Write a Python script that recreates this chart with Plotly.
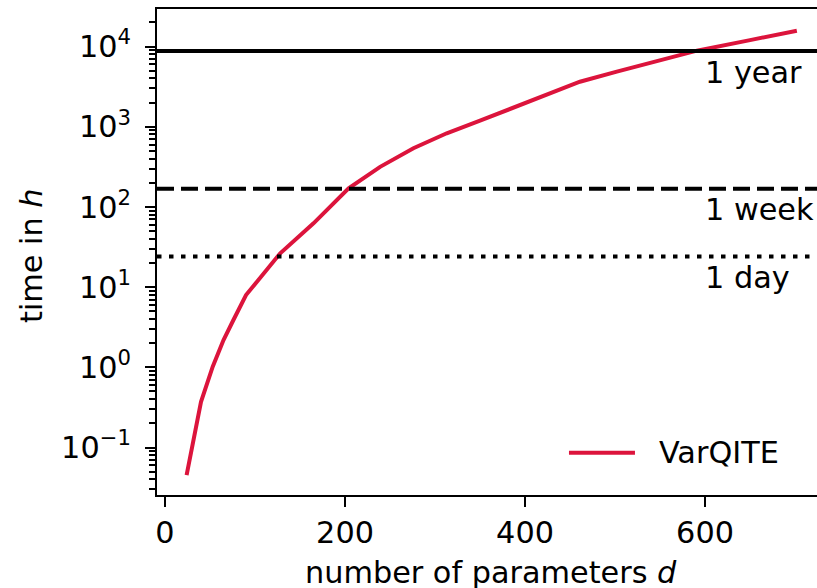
import math
import plotly.graph_objects as go

# ---- data ----
n_params = [24, 40, 53, 65, 76, 90, 128, 165, 204, 239, 276, 313, 350, 391, 428, 461, 502, 539, 591, 650, 702]
time_h = [0.0454, 0.372, 1.02, 2.19, 3.89, 7.96, 26.4, 62.4, 170.6, 316, 538, 828, 1189, 1778,
          2606, 3639, 4853, 6281, 8872, 12020, 15740]
series_name = "VarQITE"

ref_labels = ["1 year", "1 week", "1 day"]
ref_values = [8760, 168, 24]
ref_dashes = ["solid", "17px,7px", "4.5px,7.5px"]

x_ticks = [0, 200, 400, 600]
y_ticks = [0.1, 1, 10, 100, 1000, 10000]
y_ticktext = ["10<sup>\u22121</sup>", "10<sup>0</sup>", "10<sup>1</sup>", "10<sup>2</sup>",
              "10<sup>3</sup>", "10<sup>4</sup>"]
y_minor = [m * 10.0 ** k for k in range(-2, 5) for m in range(2, 10)]

FONT = "DejaVu Sans"
FS = 30.3
RED = "#DC143C"

fig = go.Figure()
fig.add_trace(go.Scatter(x=n_params, y=time_h, mode="lines", name=series_name,
                         line=dict(color=RED, width=4), showlegend=False))

for lab, val, dash in zip(ref_labels, ref_values, ref_dashes):
    fig.add_hline(y=val, line=dict(color="black", width=4, dash=dash))
    fig.add_annotation(x=597.5, y=math.log10(val), xref="x", yref="y", text=lab, showarrow=False,
                       xanchor="left", yanchor="middle", yshift=-21,
                       font=dict(family=FONT, size=FS, color="black"))

# manual legend
fig.add_shape(type="line", xref="paper", yref="paper", x0=0.6242, x1=0.7242, y0=0.087, y1=0.087,
              line=dict(color=RED, width=4))
fig.add_annotation(x=0.757, y=0.087, xref="paper", yref="paper", text=series_name, showarrow=False,
                   xanchor="left", yanchor="middle", font=dict(family=FONT, size=FS, color="black"))

# axis titles
fig.add_annotation(x=362, y=0, xref="x", yref="paper", yshift=-77, text="number of parameters <i>d</i>",
                   showarrow=False, xanchor="center", yanchor="middle",
                   font=dict(family=FONT, size=FS, color="black"))
fig.add_annotation(x=0, y=0.4918, xref="paper", yref="paper", xshift=-125, text="time in <i>h</i>",
                   showarrow=False, textangle=-90, xanchor="center", yanchor="middle",
                   font=dict(family=FONT, size=FS, color="black"))

fig.update_layout(
    width=817, height=588,
    margin=dict(l=157, r=0, t=9, b=93),
    paper_bgcolor="white", plot_bgcolor="white",
    font=dict(family=FONT, size=FS, color="black"),
    showlegend=False,
    xaxis=dict(range=[-8.9, 724.4], tickvals=x_ticks, ticks="outside", ticklen=10, tickwidth=2,
               tickcolor="black", showline=True, linewidth=2, linecolor="black", mirror=True,
               showgrid=False, zeroline=False, tickfont=dict(family=FONT, size=FS, color="black")),
    yaxis=dict(type="log", range=[-1.592, 4.4676], tickvals=y_ticks, ticktext=y_ticktext,
               ticks="outside", ticklen=10, tickwidth=2, tickcolor="black", ticklabelstandoff=8,
               showline=True, linewidth=2, linecolor="black", mirror=False,
               showgrid=False, zeroline=False, tickfont=dict(family=FONT, size=FS, color="black"),
               minor=dict(tickvals=y_minor, ticks="outside", ticklen=6, tickwidth=1.5,
                          tickcolor="black", showgrid=False)),
)

fig.write_html("out.html", config={"displayModeBar": False},
               post_script="document.body.style.margin='0';")
